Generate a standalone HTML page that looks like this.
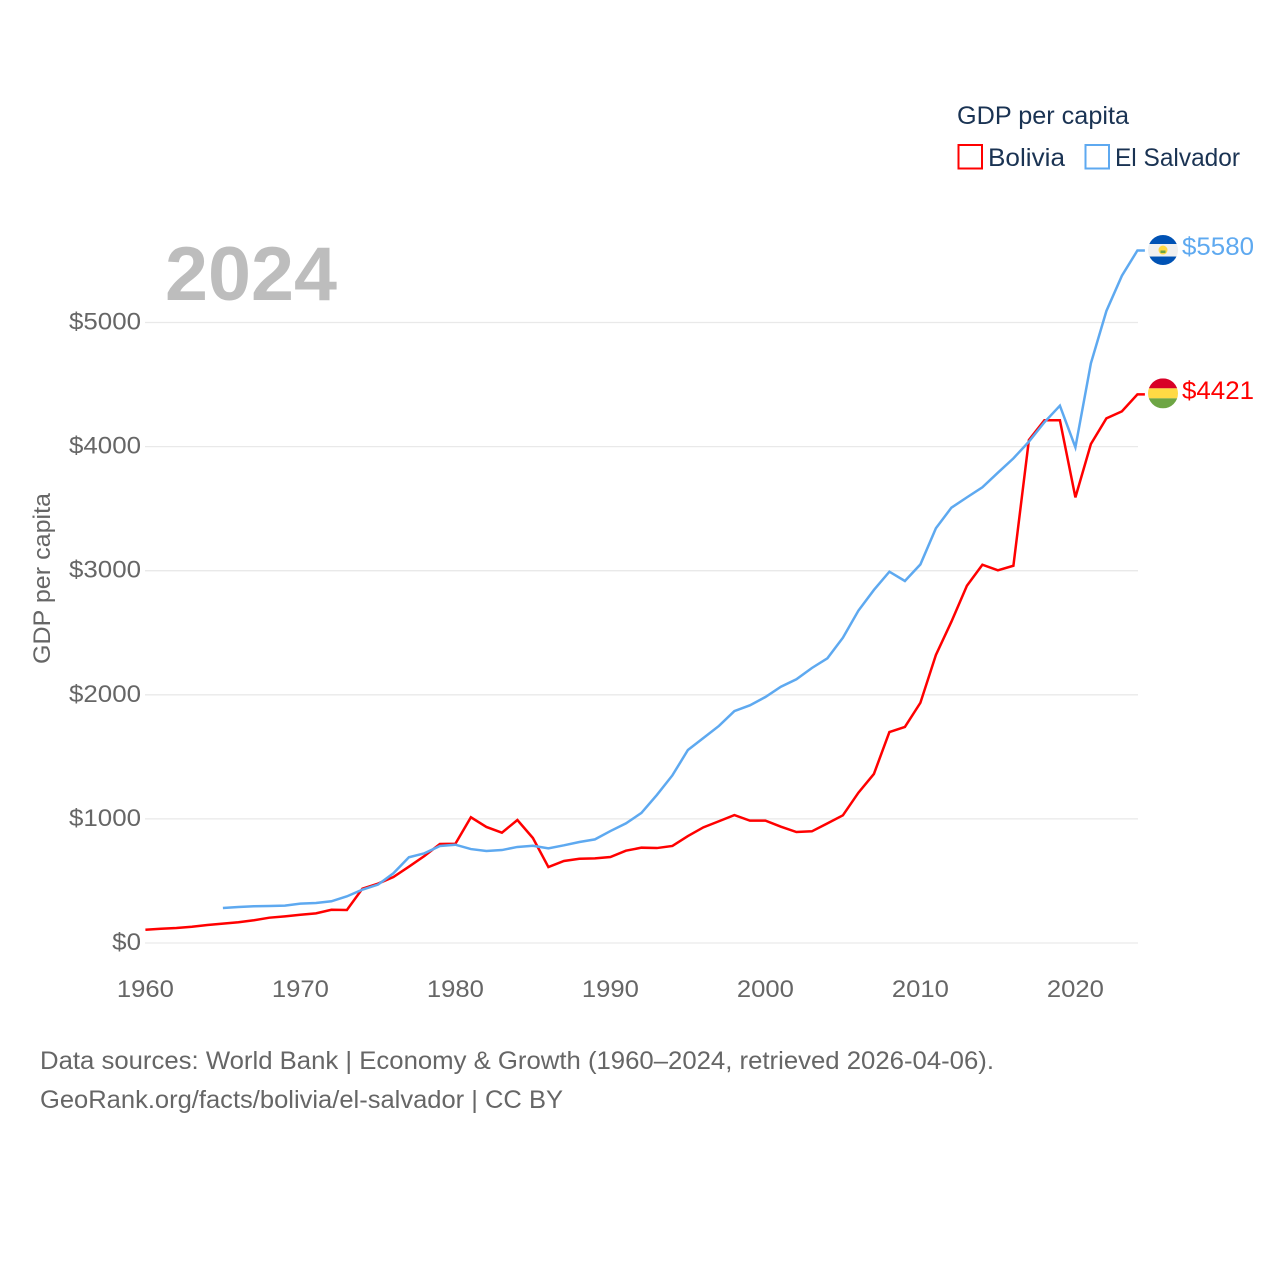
<!DOCTYPE html>
<html lang="en">
<head>
<meta charset="utf-8">
<title>GDP per capita: Bolivia and El Salvador</title>
<style>
html,body{margin:0;padding:0;background:#fff;}
svg{display:block;font-family:"Liberation Sans",sans-serif;}
</style>
</head>
<body>
<svg id="chart" width="1280" height="1280" viewBox="0 0 1280 1280" xmlns="http://www.w3.org/2000/svg">
  <rect width="1280" height="1280" fill="#ffffff"/>
  <g id="grid"></g>
  <g id="yticks"></g>
  <g id="xticks"></g>
  <text x="165" y="300" font-size="76" font-weight="700" fill="#bdbdbd" textLength="172" lengthAdjust="spacingAndGlyphs">2024</text>
  <text transform="translate(50,664) rotate(-90)" font-size="24" fill="#666666" textLength="171" lengthAdjust="spacingAndGlyphs">GDP per capita</text>
  <g id="series"></g>
  <g id="ends"></g>
  <g>
    <text x="957" y="124" font-size="25" fill="#1a3353" textLength="172" lengthAdjust="spacingAndGlyphs">GDP per capita</text>
    <rect x="958.5" y="145" width="23.5" height="23.5" fill="none" stroke="#ff0000" stroke-width="2"/>
    <text x="988" y="166" font-size="25" fill="#1a3353" textLength="77" lengthAdjust="spacingAndGlyphs">Bolivia</text>
    <rect x="1085.5" y="145" width="23.5" height="23.5" fill="none" stroke="#5ea9f0" stroke-width="2"/>
    <text x="1115" y="166" font-size="25" fill="#1a3353" textLength="125" lengthAdjust="spacingAndGlyphs">El Salvador</text>
  </g>
  <text x="40" y="1069" font-size="25" fill="#666666" textLength="954" lengthAdjust="spacingAndGlyphs">Data sources: World Bank | Economy &amp; Growth (1960–2024, retrieved 2026-04-06).</text>
  <text x="40" y="1108" font-size="25" fill="#666666" textLength="523" lengthAdjust="spacingAndGlyphs">GeoRank.org/facts/bolivia/el-salvador | CC BY</text>
</svg>
<script>
const yearsStart = 1960;
const yTickValues = [0, 1000, 2000, 3000, 4000, 5000];
const yTickLabels = ["$0", "$1000", "$2000", "$3000", "$4000", "$5000"];
const xTickValues = [1960, 1970, 1980, 1990, 2000, 2010, 2020];
const xTickLabels = ["1960", "1970", "1980", "1990", "2000", "2010", "2020"];
const boliviaStartYear = 1960;
const boliviaValues = [107,115,121,131,145,156,167,183,204,215,228,239,268,266,438,478,532,615,701,798,800,1013,935,889,991,846,612,661,679,682,693,744,768,765,782,862,932,981,1031,986,986,937,894,900,964,1029,1211,1362,1700,1741,1936,2321,2589,2879,3048,3003,3040,4053,4212,4212,3591,4021,4228,4284,4421];
const elSalvadorStartYear = 1965;
const elSalvadorValues = [282,290,296,298,301,317,322,336,376,430,470,562,691,723,782,792,757,741,749,774,784,763,787,814,835,902,964,1048,1193,1351,1555,1652,1749,1869,1915,1982,2065,2125,2216,2294,2460,2678,2845,2992,2917,3051,3342,3508,3591,3672,3790,3905,4040,4196,4330,3994,4671,5093,5377,5580];

const NS = "http://www.w3.org/2000/svg";
function xScale(year){ return 145.4 + (year - yearsStart) * 15.5; }
function yScale(v){ return 943 - v * 0.1241; }
function mk(tag, attrs, parent){
  const el = document.createElementNS(NS, tag);
  for (const k in attrs) el.setAttribute(k, attrs[k]);
  parent.appendChild(el);
  return el;
}

const grid = document.getElementById("grid");
const yticks = document.getElementById("yticks");
const xticks = document.getElementById("xticks");
const series = document.getElementById("series");
const ends = document.getElementById("ends");

yTickValues.forEach(function(v, i){
  const line = mk("line", {x1:145, x2:1138, y1:yScale(v), y2:yScale(v), stroke:"#e9e9e9", "stroke-width":1.3}, grid);
  
  
  const t = mk("text", {x:141, y:yScale(v)+7, "text-anchor":"end", "font-size":24, fill:"#666666", textLength:yTickLabels[i].length*14.4, lengthAdjust:"spacingAndGlyphs"}, yticks);
  
  
  t.textContent = yTickLabels[i];
});

xTickValues.forEach(function(yr, i){
  const t = mk("text", {x:xScale(yr), y:997, "text-anchor":"middle", "font-size":24, fill:"#666666", textLength:57, lengthAdjust:"spacingAndGlyphs"}, xticks);
  
  
  t.textContent = xTickLabels[i];
});

function linePoints(startYear, values){
  const pts = values.map(function(v, i){ return xScale(startYear + i).toFixed(2) + "," + yScale(v).toFixed(2); });
  const last = values[values.length - 1];
  pts.push((xScale(startYear + values.length - 1) + 7.5).toFixed(2) + "," + yScale(last).toFixed(2));
  return pts.join(" ");
}

const boliviaLine = mk("polyline", {points:linePoints(boliviaStartYear, boliviaValues), fill:"none", stroke:"#ff0000", "stroke-width":2.5, "stroke-linejoin":"miter"}, series);


const salvadorLine = mk("polyline", {points:linePoints(elSalvadorStartYear, elSalvadorValues), fill:"none", stroke:"#5ea9f0", "stroke-width":2.5, "stroke-linejoin":"miter"}, series);



function bands(g, cy, id, stripes){
  const cp = mk("clipPath", {id:id}, g);
  mk("circle", {cx:1163, cy:cy, r:15}, cp);
  const inner = mk("g", {"clip-path":"url(#" + id + ")"}, g);
  stripes.forEach(function(s){
    mk("rect", {x:1148, y:cy + s[0], width:30, height:s[1], fill:s[2]}, inner);
  });
  return inner;
}

const lastSv = elSalvadorValues[elSalvadorValues.length - 1];
const svY = yScale(lastSv) - 0.5;
const svFlag = mk("g", {}, ends);


const svInner = bands(svFlag, svY, "clip-sv", [[-15,9,"#0052b4"],[-6,12.5,"#f0f0f0"],[6.5,9,"#0052b4"]]);
mk("circle", {cx:1163, cy:svY, r:4.5, fill:"#ffda44"}, svInner);
mk("rect", {x:1160.5, y:svY + 0.5, width:5, height:2.5, fill:"#6da544"}, svInner);
const svLabel = mk("text", {x:1182, y:yScale(lastSv) + 4.5, "font-size":25, fill:"#5ea9f0", textLength:72, lengthAdjust:"spacingAndGlyphs"}, ends);


svLabel.textContent = "$" + lastSv;

const lastBo = boliviaValues[boliviaValues.length - 1];
const boY = yScale(lastBo) - 1;
const boFlag = mk("g", {}, ends);


bands(boFlag, boY, "clip-bo", [[-15,10,"#d80027"],[-5,10,"#ffda44"],[5,10,"#6da544"]]);
const boLabel = mk("text", {x:1182, y:yScale(lastBo) + 4.5, "font-size":25, fill:"#ff0000", textLength:72, lengthAdjust:"spacingAndGlyphs"}, ends);


boLabel.textContent = "$" + lastBo;
</script>
</body>
</html>
